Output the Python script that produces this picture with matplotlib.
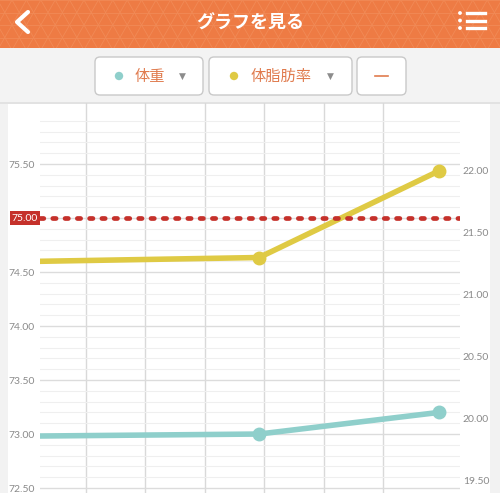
import matplotlib
matplotlib.use("Agg")
import matplotlib.pyplot as plt
import matplotlib.transforms as mtrans
from matplotlib.patches import Rectangle, FancyBboxPatch, Circle
from matplotlib.ticker import FixedLocator, FixedFormatter, NullFormatter
import numpy as np

plt.rcParams['font.family'] = ['Noto Sans CJK JP', 'DejaVu Sans']

# data (x = day, first point sits off to the left of the view)
days = [-2.1, 3.91, 6.93]
weight = [72.97, 73.00, 73.20]       # kg, left axis
body_fat = [21.25, 21.30, 22.00]     # %, right axis
target_weight = 75.00

weight_major = [72.5, 73.0, 73.5, 74.0, 74.5, 75.0, 75.5]
weight_labels = ["72.50", "73.00", "73.50", "74.00", "74.50", "", "75.50"]
fat_major = [19.5, 20.0, 20.5, 21.0, 21.5, 22.0]
fat_labels = ["19.50", "20.00", "20.50", "21.00", "21.50", "22.00"]
grid_days = [1, 2, 3, 4, 5, 6]

title = "グラフを見る"
btn_weight = "体重"
btn_fat = "体脂肪率"

teal = "#8FCFCB"
yellow = "#DFCA44"
red = "#C5312B"
orange = "#EE7B44"
btn_text = "#E07B4E"
lab_col = "#8A8A8A"

W, H = 500, 493
fig = plt.figure(figsize=(W / 100, H / 100), dpi=100, facecolor="#F2F2F2")

# background / app chrome in pixel coords
bg = fig.add_axes([0, 0, 1, 1], zorder=0)
bg.set_xlim(0, W)
bg.set_ylim(H, 0)
bg.axis("off")

bg.add_patch(Rectangle((0, 0), W, 48, fc=orange, ec="none"))
# triangle pattern on header
pc = "#F18A56"
for yy in np.arange(0, 49, 12.5):
    bg.plot([0, W], [yy, yy], color=pc, lw=0.6, zorder=1)
for x0 in np.arange(-60, W + 60, 14.4):
    bg.plot([x0, x0 + 28.8], [0, 50], color=pc, lw=0.6, zorder=1)
    bg.plot([x0, x0 - 28.8], [0, 50], color=pc, lw=0.6, zorder=1)
bg.add_patch(Rectangle((0, 48), W, 55, fc="#F3F3F3", ec="none", zorder=2))
bg.add_patch(Rectangle((0, 102), W, 2, fc="#E2E2E2", ec="none", zorder=2))
bg.add_patch(Rectangle((8, 104), 482, H - 104, fc="white", ec="none", zorder=2))

bg.text(250, 23, title, color="white", fontsize=13, fontweight="bold",
        ha="center", va="center", zorder=3)
bg.plot([28, 17, 28], [12, 22, 32], color="white", lw=3, solid_capstyle="round",
        solid_joinstyle="round", zorder=3)
for yy in [13, 20.5, 28]:
    bg.add_patch(Circle((460, yy), 1.9, fc="white", ec="none", zorder=3))
    bg.plot([467, 485], [yy, yy], color="white", lw=2.4, zorder=3)

for x0, x1 in [(95, 203), (209, 352), (357, 406)]:
    bg.add_patch(FancyBboxPatch((x0, 57), x1 - x0, 38,
                                boxstyle="round,pad=0,rounding_size=5",
                                fc="white", ec="#C9C9C9", lw=1, zorder=3))
bg.add_patch(Circle((119, 76), 4.2, fc=teal, ec="none", zorder=4))
bg.text(150, 76, btn_weight, color=btn_text, fontsize=11, ha="center", va="center", zorder=4)
bg.text(182, 76, "▼", color="#8C8C8C", fontsize=6.5, ha="center", va="center",
        family=["DejaVu Sans"], zorder=4)
bg.add_patch(Circle((234, 76), 4.2, fc=yellow, ec="none", zorder=4))
bg.text(281.5, 76, btn_fat, color=btn_text, fontsize=11, ha="center", va="center", zorder=4)
bg.text(330, 76, "▼", color="#8C8C8C", fontsize=6.5, ha="center", va="center",
        family=["DejaVu Sans"], zorder=4)
bg.plot([375, 388], [75.5, 75.5], color=btn_text, lw=1.2, zorder=4)

# chart
ax = fig.add_axes([40 / W, 0, 420 / W, (H - 103) / H], zorder=2)
ax.set_facecolor("none")
ax2 = ax.twinx()

ax.set_xlim(0.227, 7.286)
ax.set_ylim(72.454, 76.065)
ax2.set_ylim(19.395, 22.550)

ax.xaxis.set_major_locator(FixedLocator(grid_days))
ax.xaxis.set_major_formatter(NullFormatter())
ax.yaxis.set_major_locator(FixedLocator(weight_major))
ax.yaxis.set_major_formatter(FixedFormatter(weight_labels))
minor = [round(v, 1) for v in np.arange(72.6, 75.95, 0.1) if abs(v * 2 - round(v * 2)) > 1e-6]
ax.yaxis.set_minor_locator(FixedLocator(minor))
ax.yaxis.set_minor_formatter(NullFormatter())
ax2.yaxis.set_major_locator(FixedLocator(fat_major))
ax2.yaxis.set_major_formatter(FixedFormatter(fat_labels))

ax.grid(axis="x", color="#D9D9D9", lw=1)
ax.grid(axis="y", which="major", color="#DCDCDC", lw=1)
ax.grid(axis="y", which="minor", color="#EFEFEF", lw=0.8)
ax.set_axisbelow(True)

for a in (ax, ax2):
    for s in a.spines.values():
        s.set_visible(False)
    a.tick_params(axis="both", which="both", length=0)
ax.tick_params(axis="y", labelsize=7.5, labelcolor=lab_col, pad=4)
ax2.tick_params(axis="y", labelsize=7.5, labelcolor=lab_col, pad=2)
for lab in ax.get_yticklabels() + ax2.get_yticklabels():
    lab.set_family(["Lato", "DejaVu Sans"])

ax.plot(days, weight, color=teal, lw=4, zorder=3, solid_capstyle="butt")
ax.plot(days[1:], weight[1:], "o", color=teal, ms=9, zorder=4)
ax2.plot(days, body_fat, color=yellow, lw=4, zorder=3, solid_capstyle="butt")
ax2.plot(days[1:], body_fat[1:], "o", color=yellow, ms=9, zorder=4)

# target line drawn on right axes so it sits above the yellow line
y_target_px = ax.transData.transform((0, target_weight))[1]
y_target_r = ax2.transData.inverted().transform((0, y_target_px))[1]
ax2.axhline(y_target_r, color=red, lw=3.4, linestyle=(0, (0.7, 1.9)),
            dash_capstyle="round", zorder=5)

trans = mtrans.blended_transform_factory(ax.transAxes, ax.transData)
ax.text(-0.005, target_weight, "75.00", transform=trans, ha="right", va="center",
        color="white", fontsize=7.5, family=["Lato", "DejaVu Sans"], clip_on=False,
        bbox=dict(boxstyle="square,pad=0.2", fc=red, ec="none"), zorder=6)

fig.savefig("out.png", dpi=100, facecolor=fig.get_facecolor())
